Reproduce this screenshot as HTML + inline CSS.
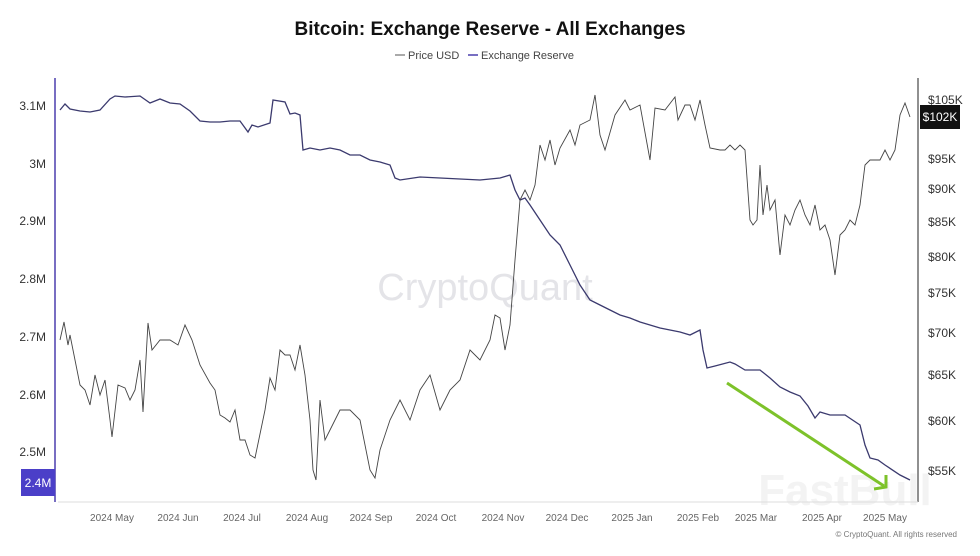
<!DOCTYPE html>
<html><head><meta charset="utf-8"><style>
body{margin:0;background:#fff;width:980px;height:551px;overflow:hidden;font-family:"Liberation Sans",sans-serif}
</style></head><body>
<svg width="980" height="551" xmlns="http://www.w3.org/2000/svg" font-family="Liberation Sans, sans-serif">
<text x="490" y="35" text-anchor="middle" font-size="19" font-weight="bold" fill="#111">Bitcoin: Exchange Reserve - All Exchanges</text>
<line x1="395" y1="55" x2="405" y2="55" stroke="#555"/>
<text x="408" y="59" font-size="11" fill="#444">Price USD</text>
<line x1="468" y1="55" x2="478" y2="55" stroke="#4b3fae" stroke-width="1.5"/>
<text x="481" y="59" font-size="11" fill="#444">Exchange Reserve</text>
<text x="485" y="300" text-anchor="middle" font-size="38" fill="#e4e4e8">CryptoQuant</text>
<text x="845" y="505" text-anchor="middle" font-size="44" font-weight="bold" fill="#f3f3f3">FastBull</text>
<line x1="55" y1="78" x2="55" y2="502" stroke="#4b3fae" stroke-width="1.5"/>
<line x1="918" y1="78" x2="918" y2="502" stroke="#222" stroke-width="1"/>
<line x1="58" y1="502" x2="918" y2="502" stroke="#ddd"/>
<g font-size="12" fill="#333" text-anchor="end">
<text x="46" y="110">3.1M</text><text x="46" y="168">3M</text><text x="46" y="225">2.9M</text><text x="46" y="283">2.8M</text><text x="46" y="341">2.7M</text><text x="46" y="399">2.6M</text><text x="46" y="456">2.5M</text>
</g>
<rect x="21" y="469" width="34" height="27" fill="#4b3fc8"/>
<text x="38" y="487" text-anchor="middle" font-size="12" fill="#fff">2.4M</text>
<g font-size="12" fill="#333">
<text x="928" y="104">$105K</text><text x="928" y="163">$95K</text><text x="928" y="193">$90K</text><text x="928" y="226">$85K</text><text x="928" y="261">$80K</text><text x="928" y="297">$75K</text><text x="928" y="337">$70K</text><text x="928" y="379">$65K</text><text x="928" y="425">$60K</text><text x="928" y="475">$55K</text>
</g>
<rect x="920" y="105" width="40" height="24" fill="#111"/>
<text x="940" y="121" text-anchor="middle" font-size="12" fill="#fff">$102K</text>
<g font-size="10" fill="#666" text-anchor="middle">
<text x="112" y="521">2024 May</text><text x="178" y="521">2024 Jun</text><text x="242" y="521">2024 Jul</text><text x="307" y="521">2024 Aug</text><text x="371" y="521">2024 Sep</text><text x="436" y="521">2024 Oct</text><text x="503" y="521">2024 Nov</text><text x="567" y="521">2024 Dec</text><text x="632" y="521">2025 Jan</text><text x="698" y="521">2025 Feb</text><text x="756" y="521">2025 Mar</text><text x="822" y="521">2025 Apr</text><text x="885" y="521">2025 May</text>
</g>
<text x="957" y="537" text-anchor="end" font-size="8" fill="#777">© CryptoQuant. All rights reserved</text>
<polyline fill="none" stroke="#3b3a6e" stroke-width="1.3" points="60,110 65,104 70,109 80,111 90,112 100,110 110,99 115,96 125,97 140,96 150,103 160,99 170,103 180,104 190,111 200,121 210,122 220,122 230,121 240,121 248,132 252,125 258,127 270,123 273,100 285,102 290,114 295,113 300,115 303,150 310,148 320,150 330,148 340,150 350,155 360,155 370,160 380,162 390,165 395,178 400,180 420,177 440,178 460,179 480,180 500,178 510,175 515,190 520,200 525,198 530,205 540,220 550,235 560,245 570,265 580,285 590,300 600,305 610,310 620,315 630,318 640,322 650,325 660,328 670,330 680,332 690,335 700,330 703,350 707,368 715,366 730,362 735,364 745,370 760,370 770,378 780,387 790,392 800,396 808,406 815,418 820,412 830,415 845,415 860,425 865,445 870,458 878,460 885,465 900,475 910,480"/>
<polyline fill="none" stroke="#444" stroke-width="0.9" points="60,340 64,322 68,345 70,335 75,360 80,385 85,390 90,405 95,375 100,395 105,380 110,420 112,437 118,385 125,388 130,400 135,390 140,360 143,412 148,323 152,350 160,340 170,340 178,345 185,325 192,340 200,365 210,383 215,390 220,415 225,418 230,422 235,410 240,440 245,440 250,455 255,458 265,410 270,378 275,390 280,350 285,355 290,355 295,370 300,345 305,375 310,420 313,470 316,480 320,400 325,440 330,430 340,410 350,410 360,420 370,470 375,478 380,450 390,420 400,400 410,420 420,390 430,375 440,410 450,390 460,380 470,350 480,360 490,340 495,315 500,318 505,350 510,325 515,260 520,200 525,190 530,200 535,185 540,145 545,160 550,140 555,165 560,148 570,130 575,145 580,125 590,120 595,95 600,135 605,150 615,115 625,100 630,110 640,105 650,160 655,108 665,110 675,97 678,120 685,105 690,105 695,120 700,100 705,125 710,148 720,150 725,150 730,145 735,150 740,145 745,150 750,220 753,225 757,220 760,165 763,215 767,185 770,210 775,200 780,255 785,215 790,225 795,210 800,200 805,215 810,225 815,205 820,230 825,225 830,240 835,275 840,235 845,230 850,220 855,225 860,205 865,165 870,160 880,160 885,150 890,160 895,150 900,115 905,103 910,117"/>
<line x1="727" y1="383" x2="884" y2="486" stroke="#7dc22a" stroke-width="3"/>
<polyline points="874,489 886,487 886,475" fill="none" stroke="#7dc22a" stroke-width="3"/>
</svg>
</body></html>
